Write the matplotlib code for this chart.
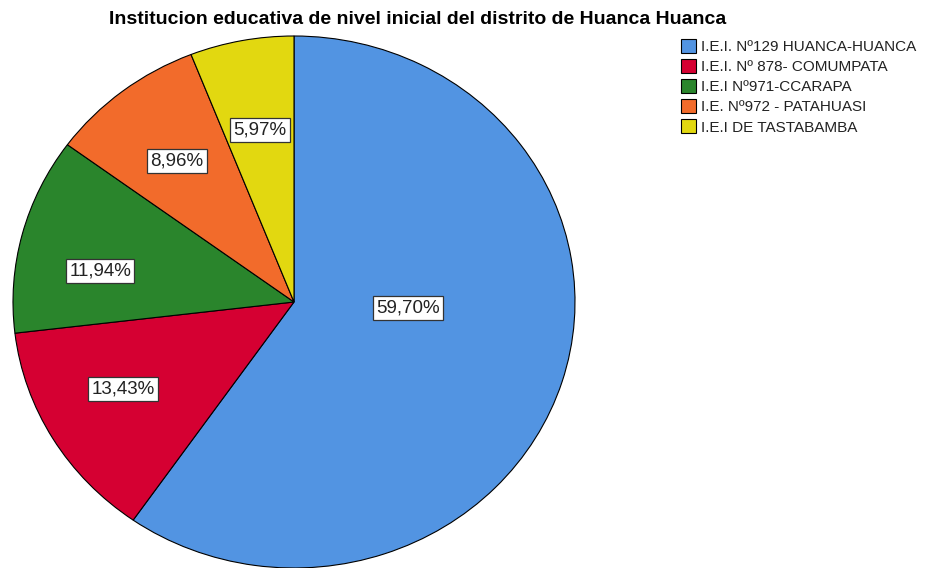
import matplotlib.pyplot as plt

categories = [
    "I.E.I. Nº129 HUANCA-HUANCA",
    "I.E.I. Nº 878- COMUMPATA",
    "I.E.I Nº971-CCARAPA",
    "I.E. Nº972 - PATAHUASI",
    "I.E.I DE TASTABAMBA",
]
percentages = [59.70, 13.43, 11.94, 8.96, 5.97]
colors = ["#5294e2", "#d50032", "#2a852c", "#f26b2b", "#e2d810"]

# label box centres, in pie units (SPSS style placement)
label_pos = [(0.405, -0.023), (-0.609, -0.327), (-0.690, 0.117),
             (-0.416, 0.530), (-0.121, 0.647)]

plt.rcParams["font.family"] = ["Liberation Sans", "DejaVu Sans"]

W, H = 925, 568
cx, cy, rx, ry = 294, 302, 281, 266

fig = plt.figure(figsize=(W / 100, H / 100), dpi=100)
ax = fig.add_axes([0, 0, 1, 1])

wedges, texts, autotexts = ax.pie(
    percentages,
    colors=colors,
    startangle=90,
    counterclock=False,
    autopct=lambda p: f"{p:.2f}%".replace(".", ","),
    pctdistance=0.67,
    wedgeprops=dict(edgecolor="black", linewidth=0.8),
    textprops=dict(fontsize=13.5, color="#222222"),
)

for t, pos in zip(autotexts, label_pos):
    t.set_position(pos)
    t.set_bbox(dict(boxstyle="square,pad=0.18", fc="white", ec="#333333", lw=0.9))

# stretched (elliptical) pie, as in the original export
ax.set_aspect("auto")
ax.set_xlim(-cx / rx, (W - cx) / rx)
ax.set_ylim(-(H - cy) / ry, cy / ry)
ax.axis("off")

fig.text(418 / W, 1 - 20 / H,
         "Institucion educativa de nivel inicial del distrito de Huanca Huanca",
         ha="center", va="center", fontsize=14, fontweight="bold")

fig.legend(
    wedges, categories,
    loc="upper left",
    bbox_to_anchor=(681 / W, 1 - 39 / H),
    frameon=False,
    fontsize=11,
    labelcolor="#222222",
    handlelength=1.0,
    handleheight=1.0,
    handletextpad=0.3,
    labelspacing=0.33,
    borderpad=0,
    borderaxespad=0,
)

plt.savefig("out.png", dpi=100)
plt.close()
